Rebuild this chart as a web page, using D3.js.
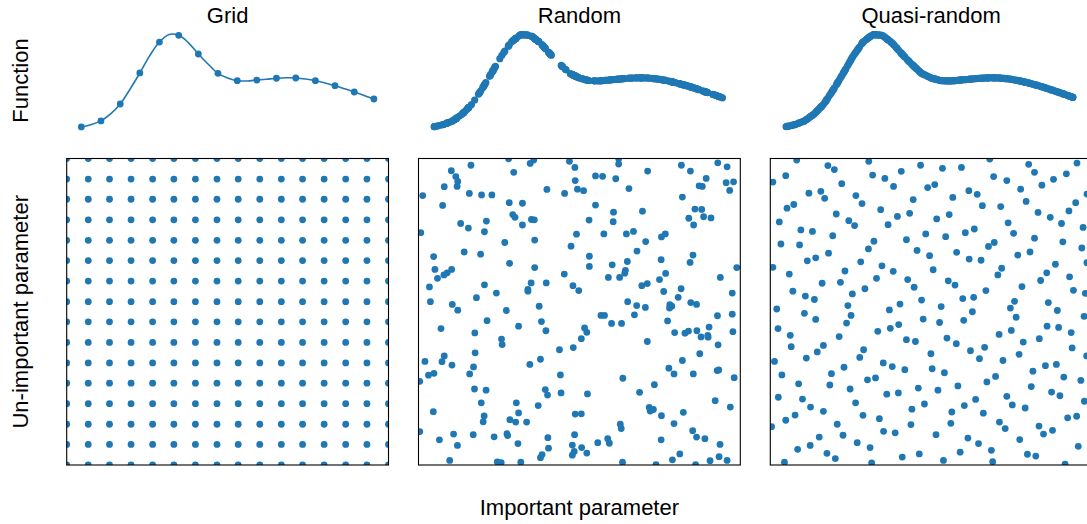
<!DOCTYPE html>
<html>
<head>
<meta charset="utf-8">
<script src="https://cdn.jsdelivr.net/npm/d3@7"></script>
<style>
  html, body { margin: 0; padding: 0; background: #fff; }
  svg { display: block; }
  text { font-family: "Liberation Sans", Arial, Helvetica, sans-serif; fill: #000; }
</style>
</head>
<body>
<svg id="chart" width="1087" height="524"></svg>
<script>
// ---------------- data ----------------
const panelTitles = ["Grid", "Random", "Quasi-random"];
const topLabel = "Function";
const leftLabel = "Un-important parameter";
const bottomLabel = "Important parameter";

// grid sampling positions (16 per axis)
const gridValues = [0, 0.067, 0.133, 0.2, 0.267, 0.333, 0.4, 0.467, 0.533, 0.6, 0.667, 0.733, 0.8, 0.867, 0.933, 1];
// function values at the grid positions
const gridFunction = [0.000, 0.065, 0.247, 0.581, 0.914, 0.986, 0.785, 0.577, 0.498, 0.505, 0.524, 0.527, 0.498, 0.444, 0.376, 0.301];

// function curve
const curveX = [0, 0.033, 0.067, 0.1, 0.133, 0.167, 0.2, 0.233, 0.267, 0.3, 0.333, 0.367, 0.4, 0.433, 0.467, 0.5,
  0.533, 0.567, 0.6, 0.633, 0.667, 0.7, 0.733, 0.767, 0.8, 0.833, 0.867, 0.9, 0.933, 0.967, 1];
const curveY = [0.000, 0.024, 0.065, 0.140, 0.247, 0.409, 0.581, 0.763, 0.914, 0.995, 0.986, 0.903, 0.785, 0.677, 0.577, 0.527,
  0.498, 0.495, 0.505, 0.514, 0.524, 0.529, 0.527, 0.516, 0.498, 0.473, 0.444, 0.411, 0.376, 0.339, 0.301];

// random samples [important, un-important]
const randomPoints = [
[.280,.999],[.358,.995],[.347,.984],[.469,.991],[.486,.971],[.163,.978],[.102,.960],[.296,.955],[.116,.941],[.122,.925],
[.120,.909],[.487,.928],[.080,.908],[.399,.899],[.494,.900],[.013,.879],[.158,.886],[.196,.881],[.228,.881],[.454,.886],
[.075,.847],[.282,.856],[.323,.854],[.293,.817],[.300,.808],[.351,.801],[.360,.800],[.131,.788],[.211,.796],[.323,.783],
[.155,.773],[.205,.761],[.007,.758],[.491,.753],[.268,.726],[.361,.734],[.474,.714],[.142,.695],[.193,.688],[.047,.680],
[.283,.658],[.051,.638],[.103,.638],[.089,.627],[.079,.620],[.361,.644],[.453,.623],[.059,.609],[.350,.594],[.397,.594],
[.205,.588],[.034,.581],[.480,.585],[.498,.569],[.340,.573],[.340,.567],[.242,.561],[.180,.546],[.037,.533],[.105,.524],
[.375,.518],[.122,.505],[.273,.504],
[.622,.999],[.622,.982],[.817,.978],[.930,.986],[.959,.973],[.845,.959],[.712,.959],[.550,.943],[.572,.942],[.613,.934],
[.894,.935],[.956,.921],[.979,.924],[.872,.911],[.882,.909],[.967,.896],[.513,.895],[.654,.902],[.820,.874],[.550,.848],
[.859,.835],[.880,.834],[.606,.825],[.696,.828],[.840,.805],[.886,.810],[.909,.806],[.530,.799],[.605,.794],[.855,.783],
[.576,.754],[.646,.754],[.668,.762],[.755,.744],[.767,.754],[.706,.729],[.679,.698],[.853,.685],[.531,.681],[.844,.661],
[.754,.670],[.649,.664],[.602,.653],[.531,.648],[.989,.644],[.643,.635],[.641,.626],[.768,.625],[.590,.612],[.625,.612],
[.749,.605],[.938,.612],[.694,.585],[.711,.592],[.816,.575],[.762,.566],[.975,.561],[.807,.547],[.650,.533],[.846,.530],
[.864,.524],[.678,.520],[.705,.514],[.781,.523],[.787,.518],[.780,.512],
[.213,.471],[.382,.468],[.070,.445],[.311,.453],[.396,.438],[.175,.431],[.258,.411],[.260,.393],[.481,.383],[.438,.376],
[.176,.366],[.080,.356],[.020,.338],[.073,.337],[.104,.326],[.379,.345],[.346,.328],[.171,.320],[.159,.297],[.048,.299],
[.031,.293],[.004,.273],[.441,.294],[.174,.248],[.210,.244],[.394,.246],[.401,.228],[.443,.235],[.195,.203],[.304,.203],
[.372,.194],[.046,.174],[.311,.170],[.204,.160],[.201,.141],[.284,.148],[.302,.140],[.336,.140],[.487,.166],[.004,.109],
[.109,.101],[.170,.099],[.065,.082],[.235,.092],[.275,.102],[.277,.096],[.402,.089],[.485,.099],[.121,.064],[.309,.070],
[.478,.065],[.404,.055],[.384,.034],[.379,.024],[.484,.044],[.478,.032],[.097,.015],[.245,.010],[.257,.008],[.318,.009],
[.567,.488],[.578,.488],[.671,.490],[.929,.487],[.975,.492],[.516,.447],[.523,.433],[.506,.412],[.600,.462],[.631,.462],
[.774,.470],[.796,.432],[.828,.430],[.839,.437],[.865,.438],[.878,.418],[.899,.423],[.900,.417],[.903,.450],[.977,.435],
[.711,.403],[.931,.392],[.874,.363],[.820,.341],[.778,.316],[.794,.297],[.854,.297],[.928,.308],[.933,.310],[.981,.285],
[.635,.283],[.733,.262],[.687,.237],[.525,.232],[.922,.210],[.969,.189],[.717,.188],[.730,.181],[.720,.176],[.755,.161],
[.823,.172],[.506,.167],[.794,.135],[.627,.133],[.630,.119],[.852,.112],[.864,.091],[.890,.086],[.754,.082],[.588,.086],
[.593,.071],[.557,.073],[.507,.057],[.937,.067],[.523,.039],[.812,.036],[.934,.027],[.959,.015],[.906,.014],[.789,.017],
[.634,.009],[.738,.001],[.861,.001]
];

// quasi-random samples [important, un-important]
const quasiPoints = [
[.082,.995],[.306,.991],[.179,.977],[.199,.964],[.467,.978],[.407,.958],[.318,.946],[.048,.944],[.356,.935],[.008,.923],
[.222,.918],[.383,.909],[.489,.905],[.120,.887],[.157,.893],[.169,.870],[.266,.879],[.444,.866],[.073,.850],[.052,.838],
[.285,.853],[.343,.833],[.205,.819],[.433,.821],[.395,.811],[.028,.793],[.244,.797],[.262,.781],[.366,.784],[.095,.767],
[.131,.762],[.483,.754],[.194,.748],[.423,.735],[.322,.730],[.033,.721],[.091,.718],[.305,.705],[.456,.700],[.181,.691],
[.141,.676],[.115,.666],[.281,.663],[.008,.645],[.347,.650],[.232,.633],[.382,.632],[.059,.623],[.330,.609],[.427,.605],
[.161,.593],[.218,.596],[.447,.580],[.294,.575],[.070,.567],[.255,.558],[.109,.551],[.137,.540],[.470,.538],[.403,.525],
[.241,.520],[.020,.509],[.370,.506],
[.682,.998],[.803,.981],[.953,.985],[.535,.968],[.594,.971],[.821,.955],[.920,.950],[.694,.941],[.735,.928],[.880,.932],
[.511,.915],[.844,.913],[.778,.900],[.617,.895],[.643,.883],[.567,.873],[.795,.860],[.949,.856],[.659,.846],[.716,.843],
[.928,.829],[.832,.824],[.556,.817],[.870,.808],[.517,.803],[.905,.788],[.739,.790],[.972,.775],[.634,.770],[.606,.758],
[.756,.756],[.545,.745],[.821,.740],[.696,.726],[.678,.713],[.909,.728],[.968,.708],[.579,.694],[.807,.695],[.769,.685],
[.495,.683],[.618,.672],[.655,.668],[.984,.660],[.886,.655],[.719,.642],[.707,.620],[.506,.637],[.859,.627],[.930,.614],
[.553,.601],[.574,.587],[.840,.602],[.782,.582],[.670,.569],[.942,.570],[.979,.560],[.598,.543],[.632,.547],[.759,.534],
[.746,.512],[.864,.530],[.531,.517],[.892,.504],[.628,.500],[.984,.884],
[.106,.495],[.251,.488],[.141,.475],[.237,.463],[.475,.476],[.024,.445],[.399,.458],[.373,.446],[.334,.436],[.062,.423],
[.214,.419],[.423,.409],[.451,.403],[.065,.386],[.165,.390],[.146,.369],[.290,.376],[.278,.351],[.112,.349],[.013,.338],
[.351,.333],[.379,.321],[.229,.319],[.418,.311],[.190,.298],[.036,.294],[.302,.278],[.327,.284],[.088,.265],[.185,.261],
[.248,.248],[.460,.251],[.362,.231],[.398,.235],[.025,.221],[.100,.215],[.265,.203],[.479,.199],[.125,.189],[.440,.182],
[.165,.175],[.077,.163],[.048,.146],[.288,.162],[.339,.151],[.004,.125],[.208,.133],[.437,.132],[.352,.110],[.388,.105],
[.226,.097],[.152,.091],[.270,.073],[.124,.064],[.310,.057],[.085,.051],[.176,.038],[.463,.036],[.410,.026],[.202,.021],
[.044,.009],[.315,.007],
[.764,.482],[.975,.485],[.601,.472],[.526,.465],[.860,.453],[.896,.449],[.749,.439],[.711,.426],[.935,.432],[.549,.414],
[.578,.396],[.836,.412],[.786,.401],[.666,.384],[.622,.373],[.938,.382],[.499,.363],[.773,.361],[.983,.356],[.650,.347],
[.723,.341],[.855,.324],[.889,.328],[.503,.314],[.541,.301],[.816,.306],[.700,.289],[.673,.271],[.912,.287],[.965,.276],
[.583,.258],[.811,.256],[.521,.244],[.874,.238],[.900,.226],[.735,.224],[.638,.214],[.976,.208],[.603,.194],[.752,.196],
[.792,.186],[.564,.173],[.662,.169],[.924,.154],[.952,.159],[.561,.136],[.712,.140],[.730,.119],[.835,.127],[.849,.101],
[.877,.113],[.515,.099],[.614,.088],[.775,.083],[.647,.070],[.957,.061],[.590,.042],[.687,.048],[.799,.035],[.825,.029],
[.538,.015],[.691,.011],[.916,.003]
];

// ---------------- drawing ----------------
const blue = "#1f77b4";
const svg = d3.select("#chart");

const panelLeft = [66.7, 418.5, 770.3];
const panelW = 321.8;
const bottomTop = 158.5, bottomBottom = 465;
const topTop = 29.4, topBottom = 131.6;

// function lookup built from the read curve (piecewise through read values)
const fnOfX = d3.scaleLinear().domain(curveX).range(curveY);

const gridPoints = [];
gridValues.forEach(gx => gridValues.forEach(gy => gridPoints.push([gx, gy])));

const bottomSets = [gridPoints, randomPoints, quasiPoints];
const topSets = [
  gridValues.map((x, i) => [x, gridFunction[i]]),
  randomPoints.map(p => [p[0], fnOfX(p[0])]),
  quasiPoints.map(p => [p[0], fnOfX(p[0])])
];

const defs = svg.append("defs");

panelLeft.forEach((left, i) => {
  // ----- top function panel -----
  const tx = d3.scaleLinear().domain([-0.05, 1.05]).range([left, left + panelW]);
  const ty = d3.scaleLinear().domain([-0.05, 1.05]).range([topBottom, topTop]);
  const gTop = svg.append("g");
  if (i === 0) {
    const line = d3.line()
      .x((d, k) => tx(curveX[k]))
      .y(d => ty(d))
      .curve(d3.curveCatmullRom.alpha(0.5));
    gTop.append("path")
      .attr("d", line(curveY))
      .attr("fill", "none")
      .attr("stroke", blue)
      .attr("stroke-width", 1.6);
  }
  gTop.selectAll("circle").data(topSets[i]).join("circle")
    .attr("cx", d => tx(d[0]))
    .attr("cy", d => ty(d[1]))
    .attr("r", i === 0 ? 3.4 : 3.6)
    .attr("fill", blue);

  // ----- bottom scatter panel -----
  const bx = d3.scaleLinear().domain([0, 1]).range([left, left + panelW]);
  const by = d3.scaleLinear().domain([0, 1]).range([bottomBottom, bottomTop]);
  const clipId = "clip" + i;
  defs.append("clipPath").attr("id", clipId)
    .append("rect")
    .attr("x", left).attr("y", bottomTop)
    .attr("width", panelW).attr("height", bottomBottom - bottomTop);
  const gBot = svg.append("g").attr("clip-path", `url(#${clipId})`);
  gBot.selectAll("circle").data(bottomSets[i]).join("circle")
    .attr("cx", d => bx(d[0]))
    .attr("cy", d => by(d[1]))
    .attr("r", 3.4)
    .attr("fill", blue);
  svg.append("rect")
    .attr("x", left).attr("y", bottomTop)
    .attr("width", panelW).attr("height", bottomBottom - bottomTop)
    .attr("fill", "none")
    .attr("stroke", "#000")
    .attr("stroke-width", 1.1);

  // title
  svg.append("text")
    .attr("x", left + panelW / 2)
    .attr("y", 22.7)
    .attr("text-anchor", "middle")
    .attr("font-size", 22)
    .text(panelTitles[i]);
});

// row labels
svg.append("text")
  .attr("transform", `translate(28.3, ${(topTop + topBottom) / 2}) rotate(-90)`)
  .attr("text-anchor", "middle")
  .attr("font-size", 22)
  .text(topLabel);
svg.append("text")
  .attr("transform", `translate(28.3, ${(bottomTop + bottomBottom) / 2}) rotate(-90)`)
  .attr("text-anchor", "middle")
  .attr("font-size", 22)
  .text(leftLabel);
svg.append("text")
  .attr("x", panelLeft[1] + panelW / 2)
  .attr("y", 514.7)
  .attr("text-anchor", "middle")
  .attr("font-size", 22)
  .text(bottomLabel);
</script>
</body>
</html>
